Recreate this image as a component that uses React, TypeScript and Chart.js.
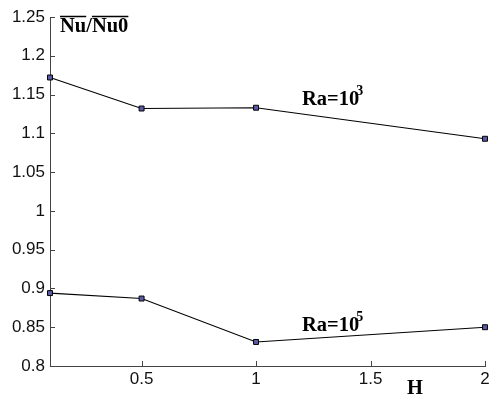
import React, { useEffect, useRef } from "react";
import { Chart, registerables } from "chart.js";

Chart.register(...registerables);

const hValues = [0.1, 0.5, 1, 2];
const nuRa3 = [1.172, 1.132, 1.133, 1.093];
const nuRa5 = [0.894, 0.887, 0.831, 0.85];
const xTickValues = [0.5, 1, 1.5, 2];
const yTickValues = [0.8, 0.85, 0.9, 0.95, 1, 1.05, 1.1, 1.15, 1.2, 1.25];

const SERIF = "'Liberation Serif', 'Times New Roman', serif";

const annotPlugin = {
  id: "annot",
  afterDraw(chart: any) {
    const ctx = chart.ctx;
    const xs = chart.scales.x;
    const ys = chart.scales.y;
    const area = chart.chartArea;
    ctx.save();
    // inward ticks
    ctx.strokeStyle = "#444";
    ctx.lineWidth = 1;
    ctx.beginPath();
    yTickValues.forEach((v) => {
      const y = Math.round(ys.getPixelForValue(v)) + 0.5;
      ctx.moveTo(area.left, y);
      ctx.lineTo(area.left + 5, y);
    });
    xTickValues.forEach((v) => {
      const x = Math.round(xs.getPixelForValue(v)) + 0.5;
      ctx.moveTo(x, area.bottom);
      ctx.lineTo(x, area.bottom - 5);
    });
    ctx.stroke();

    ctx.fillStyle = "#000";
    ctx.textBaseline = "alphabetic";
    ctx.textAlign = "left";
    // Nu/Nu0 title
    ctx.font = `bold 20.5px ${SERIF}`;
    const tx = 60, ty = 32;
    ctx.fillText("Nu/Nu0", tx, ty);
    const wNu = ctx.measureText("Nu").width;
    const wNuSlash = ctx.measureText("Nu/").width;
    const wAll = ctx.measureText("Nu/Nu0").width;
    ctx.strokeStyle = "#000";
    ctx.lineWidth = 1.5;
    ctx.beginPath();
    ctx.moveTo(tx, 16.5);
    ctx.lineTo(tx + wNu, 16.5);
    ctx.moveTo(tx + wNuSlash, 16.5);
    ctx.lineTo(tx + wAll, 16.5);
    ctx.stroke();

    // Ra labels
    const drawRa = (x: number, y: number, exp: string) => {
      ctx.font = `bold 20.5px ${SERIF}`;
      ctx.fillText("Ra=10", x, y);
      const w = ctx.measureText("Ra=10").width;
      ctx.font = `bold 14px ${SERIF}`;
      ctx.fillText(exp, x + w - 3, y - 10);
    };
    drawRa(302, 105, "3");
    drawRa(302, 331, "5");

    // H label
    ctx.font = `bold 20.5px ${SERIF}`;
    ctx.fillText("H", 407, 394);
    ctx.restore();
  },
};

export default function App() {
  const ref = useRef<HTMLCanvasElement | null>(null);
  useEffect(() => {
    if (!ref.current) return;
    const ds = (label: string, vals: number[]) => ({
      label,
      data: hValues.map((h, i) => ({ x: h, y: vals[i] })),
      borderColor: "#000",
      borderWidth: 1.1,
      pointStyle: "rect",
      pointRadius: 3.5,
      pointBackgroundColor: "#5a5aa8",
      pointBorderColor: "#000",
      pointBorderWidth: 1,
      clip: false as any,
    });
    const chart = new Chart(ref.current, {
      type: "line",
      data: {
        datasets: [ds("Ra=10^3", nuRa3), ds("Ra=10^5", nuRa5)],
      },
      options: {
        animation: false,
        responsive: false,
        maintainAspectRatio: false,
        layout: { padding: { top: 17, right: 4, left: 0, bottom: 0 } },
        plugins: { legend: { display: false }, tooltip: { enabled: false } },
        scales: {
          x: {
            type: "linear",
            min: 0.1,
            max: 2,
            afterBuildTicks: (s: any) => {
              s.ticks = xTickValues.map((v) => ({ value: v }));
            },
            afterFit: (s: any) => {
              s.height = 33;
              s.paddingLeft = 0;
              s.paddingRight = 0;
            },
            grid: { display: false, drawTicks: false },
            border: { display: true, color: "#444", width: 1 },
            ticks: {
              color: "#111",
              padding: 3,
              font: { family: "'Liberation Sans', Arial, sans-serif", size: 17 },
              callback: (v: any) => String(v),
            },
          },
          y: {
            type: "linear",
            min: 0.8,
            max: 1.25,
            afterBuildTicks: (s: any) => {
              s.ticks = yTickValues.map((v) => ({ value: v }));
            },
            afterFit: (s: any) => {
              s.width = 50;
              s.paddingTop = 0;
              s.paddingBottom = 0;
            },
            grid: { display: false, drawTicks: false },
            border: { display: true, color: "#444", width: 1 },
            ticks: {
              color: "#111",
              padding: 5,
              font: { family: "'Liberation Sans', Arial, sans-serif", size: 17 },
              callback: (v: any) => String(Math.round(v * 100) / 100),
            },
          },
        },
      },
      plugins: [annotPlugin],
    });
    return () => chart.destroy();
  }, []);
  return (
    <div style={{ position: "fixed", left: 0, top: 0, width: 490, height: 399, background: "#fff" }}>
      <canvas ref={ref} width={490} height={399} style={{ width: 490, height: 399 }} />
    </div>
  );
}
